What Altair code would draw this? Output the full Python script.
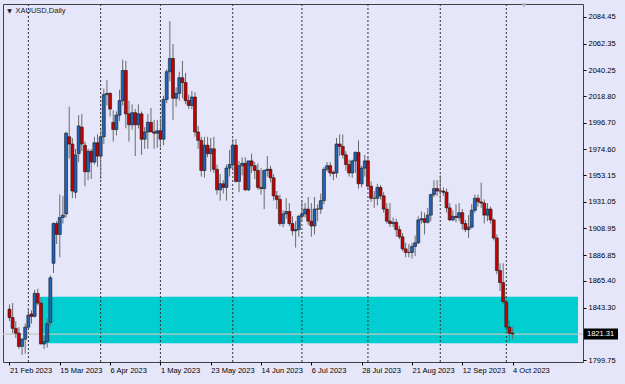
import altair as alt
import pandas as pd

# ---- daily candles, XAUUSD (index 0 = 21 Feb 2023 ... 160 = 4 Oct 2023) ----
opens = [1842,1835,1826,1822,1811,1817,1827,1838,1836,1855,
         1847,1813,1815,1831,1880,1913,1904,1918,1921,1985,
         1979,1939,1971,1993,1978,1956,1973,1964,1980,1969,
         1985,2020,2021,1997,1991,2003,2015,2040,2004,1995,
         2005,1995,2004,1983,1989,1997,1989,1988,1990,1983,
         2016,2039,2050,2017,2021,2034,2030,2015,2011,2018,
         1989,1982,1957,1978,1971,1975,1958,1941,1946,1943,
         1959,1962,1978,1948,1961,1963,1941,1965,1961,1957,
         1943,1942,1957,1958,1951,1936,1933,1913,1921,1923,
         1913,1907,1908,1919,1921,1925,1915,1911,1925,1925,
         1932,1958,1961,1955.5,1955,1979,1977,1970,1962,1955,
         1965,1972,1946,1959,1965,1944,1934,1934,1943,1936,
         1925,1915,1913,1914,1908,1902,1892,1889,1889,1894,
         1897,1916,1917,1914,1920,1937,1942,1940,1940,1939,
         1926,1916,1919,1918,1922,1913,1908,1910,1924,1934,
         1931,1930,1920,1925,1916,1901,1874,1864,1848,1827,
         1822]
highs = [1846,1847,1832,1827,1818,1830,1843,1841,1858,1859,
         1852,1820,1834,1870,1914,1915,1937,1936,1989,2010,
         1984,1975,2003,2004,1981,1975,1975,1985,1987,1990,
         2025,2032,2022,2007,2006,2024,2049,2048,2015,2012,
         2008,2012,2006,1993,2004,2009,1999,1999,2000,2019,
         2041,2081,2062,2026,2039,2048,2038,2020,2023,2022,
         1994,1985,1985,1985,1984,1985,1962,1954,1949,1962,
         1974,1983,1983,1965,1968,1968,1965,1971,1964,1963,
         1959,1958,1969,1961,1954,1940,1937,1924,1934,1930,
         1919,1915,1920,1932,1930,1935,1930,1935,1929,1938,
         1960,1964,1964,1957,1984,1987,1987,1973,1966,1966,
         1973,1982,1961,1970,1968,1948,1940,1946,1945,1939,
         1930,1930,1918,1917,1911,1905,1897,1896,1897,1903,
         1919,1923,1922,1926,1938,1949,1949,1953,1943,1942,
         1930,1924,1929,1930,1925,1916,1920,1929,1937,1937,
         1947,1933,1930,1927,1917,1904,1880,1880,1850,1833,
         1827]
lows = [1832,1822,1818,1809,1804,1805,1826,1830,1835,1845,
        1813,1809,1810,1828,1872,1896,1885,1913,1918,1967,
        1934,1934,1964,1973,1944,1949,1950,1962,1960,1950,
        1979,2011,2002,1981,1986,1998,2011,1992,1981,1991,
        1969,1992,1970,1975,1975,1989,1975,1976,1976,1978,
        2013,2031,1999,2010,2015,2017,2012,2008,2008,1985,
        1975,1952,1951,1968,1956,1955,1937,1932,1938,1932,
        1952,1957,1947,1939,1953,1940,1940,1955,1950,1941,
        1937,1925,1952,1947,1932,1925,1911,1910,1917,1911,
        1903,1893,1902,1916,1918,1912,1902,1904,1915,1921,
        1929,1956,1952,1949,1951,1969,1967,1957,1952,1951,
        1955,1942,1943,1952,1942,1931,1926,1928,1933,1922,
        1913,1910,1910,1902,1900,1890,1885,1885,1884,1886,
        1896,1913,1904,1913,1915,1935,1936,1931,1936,1922,
        1915,1915,1914,1915,1908,1906,1901,1909,1922,1927,
        1926,1913,1915,1913,1899,1871,1857,1846,1827,1815,
        1817]
closes = [1835,1826,1822,1811,1817,1827,1837,1836,1855,1847,
          1813,1815,1830,1868,1913,1904,1918,1920,1988,1979,
          1940,1970,1994,1979,1956,1973,1964,1980,1969,1985,
          2020,2021,2008,1991,2003,2015,2040,2004,1995,2005,
          1995,2004,1983,1989,1997,1989,1988,1990,1983,2016,
          2039,2050,2017,2021,2034,2030,2015,2011,2018,1989,
          1982,1957,1978,1971,1975,1958,1941,1946,1943,1959,
          1962,1978,1948,1961,1963,1941,1965,1961,1957,1943,
          1942,1957,1958,1951,1936,1933,1913,1921,1923,1913,
          1907,1908,1919,1921,1925,1915,1911,1925,1925,1932,
          1958,1961,1955,1954.5,1979,1977,1970,1962,1955,1965,
          1972,1946,1959,1965,1944,1934,1934,1943,1936,1925,
          1915,1913,1914,1908,1902,1892,1889,1889,1894,1897,
          1916,1917,1914,1920,1937,1942,1940,1940,1939,1926,
          1916,1919,1918,1922,1913,1908,1910,1924,1934,1931,
          1930,1920,1925,1916,1901,1874,1864,1848,1827,1822,
          1821.31]

tick_index = [0, 16, 32, 48, 64, 80, 96, 112, 128, 144, 160]
tick_labels = ["21 Feb 2023", "15 Mar 2023", "6 Apr 2023", "1 May 2023",
               "23 May 2023", "14 Jun 2023", "6 Jul 2023", "28 Jul 2023",
               "21 Aug 2023", "12 Sep 2023", "4 Oct 2023"]
price_ticks = [2084.45, 2062.35, 2040.25, 2018.80, 1996.70, 1974.60, 1953.15,
               1931.05, 1908.95, 1886.85, 1865.40, 1843.30, 1799.75]
month_start_index = [6, 29, 48, 71, 93, 114, 137, 158]
zone_start_index = [9.8]
zone_top = [1852.3]
zone_bottom = [1813.6]
last_price = [1821.31]

X_DOMAIN = [-0.47, 180.8]
Y_DOMAIN = [1798.1, 2095.2]

BG = "#E6E6FA"
FONT = "Liberation Sans"

df = pd.DataFrame({"i": list(range(len(opens))), "open": opens, "high": highs,
                   "low": lows, "close": closes})
df["dir"] = ["up" if c >= o else "down" for o, c in zip(opens, closes)]

label_expr = "[" + ",".join("'%s'" % t for t in tick_labels) + "][round(datum.value/16)]"

xscale = alt.Scale(domain=X_DOMAIN, nice=False, zero=False)
yscale = alt.Scale(domain=Y_DOMAIN, nice=False, zero=False)

x_axis = alt.Axis(values=tick_index, labelExpr=label_expr, grid=False, domain=False,
                  tickSize=3, tickColor="#000000", labelColor="#000000",
                  labelFontSize=7.5, labelFont=FONT, labelAlign="left",
                  labelPadding=1, labelFlush=False, labelOverlap=False, title=None)
y_axis = alt.Axis(orient="right", values=price_ticks, format=".2f", grid=False,
                  domain=False, tickSize=3, tickColor="#000000", labelColor="#000000",
                  labelFontSize=7.5, labelFont=FONT, labelPadding=2,
                  labelFlush=False, labelOverlap=False, title=None)


def X(field):
    return alt.X(field, scale=xscale, axis=x_axis)


def Y(field):
    return alt.Y(field, scale=yscale, axis=y_axis)


zone_df = pd.DataFrame({"x": zone_start_index, "x2": [X_DOMAIN[1]],
                        "y": zone_top, "y2": zone_bottom})
zone = alt.Chart(zone_df).mark_rect(color="#00CED1").encode(
    x=X("x:Q"), x2="x2:Q", y=Y("y:Q"), y2="y2:Q",
)

seps = alt.Chart(pd.DataFrame({"m": month_start_index})).mark_rule(
    color="#303030", strokeDash=[2, 2], strokeWidth=1
).encode(x=X("m:Q"))

lp_df = pd.DataFrame({"p": last_price})
bid = alt.Chart(lp_df).mark_rule(color="#C4C4C4", strokeWidth=1.2).encode(y=Y("p:Q"))

base = alt.Chart(df)
wicks = base.mark_rule(color="#6A6A6A", strokeWidth=1).encode(
    x=X("i:Q"), y=Y("low:Q"), y2="high:Q",
)
bodies = base.mark_bar(size=3, stroke="#1A1A1A", strokeWidth=0.6).encode(
    x=X("i:Q"), y=Y("open:Q"), y2="close:Q",
    color=alt.Color("dir:N", scale=alt.Scale(domain=["up", "down"],
                                             range=["#1F64B8", "#C80000"]),
                    legend=None),
)

price_box = alt.Chart(lp_df).mark_rect(color="#000000", yOffset=-5.5, y2Offset=5.5).encode(
    x=alt.value(581), x2=alt.value(615), y=Y("p:Q"), y2="p:Q")
price_txt = alt.Chart(lp_df).mark_text(
    color="#FFFFFF", fontSize=7.5, font=FONT, align="left", baseline="middle"
).encode(x=alt.value(584), y=Y("p:Q"), text=alt.Text("p:Q", format=".2f"))

title_tri = alt.Chart(lp_df).mark_text(
    text="▼", fontSize=6, font="DejaVu Sans", color="#202020",
    align="center", baseline="middle").encode(x=alt.value(6.5), y=alt.value(7))
title_txt = alt.Chart(lp_df).mark_text(
    text="XAUUSD,Daily", fontSize=7.5, font=FONT, color="#202020",
    align="left", baseline="middle").encode(x=alt.value(12.5), y=alt.value(7))
shift_mark = alt.Chart(lp_df).mark_point(
    shape="triangle-down", filled=True, color="#B4B4C4", size=28, opacity=1
).encode(x=alt.value(521), y=alt.value(1.5))

chart = alt.layer(
    zone, seps, bid, wicks, bodies, price_box, price_txt, title_tri, title_txt, shift_mark
).properties(
    width=580, height=358,
    padding={"left": 3, "top": 4, "right": 42, "bottom": 22},
    autosize=alt.AutoSizeParams(type="none"),
    background=BG,
).configure_view(
    fill=BG, stroke="#404040", strokeWidth=1
)

chart.save("out.html", embed_options={"renderer": "svg", "actions": False})
